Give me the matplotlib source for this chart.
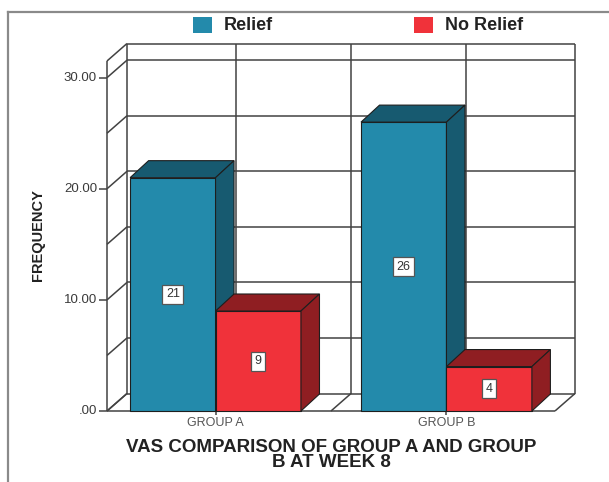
import numpy as np
import matplotlib
matplotlib.use("Agg")
import matplotlib.pyplot as plt
from matplotlib.patches import Rectangle
from matplotlib.lines import Line2D

plt.rcParams['font.family'] = ['Liberation Sans', 'DejaVu Sans']

# ---- data ----
groups = ["GROUP A", "GROUP B"]
relief = [21, 26]
no_relief = [9, 4]
series_names = ["Relief", "No Relief"]
y_ticks = [0, 10, 20, 30]
y_tick_labels = [".00", "10.00", "20.00", "30.00"]
title = "VAS COMPARISON OF GROUP A AND GROUP\nB AT WEEK 8"
ylabel = "FREQUENCY"

# ---- style ----
front_cols = ["#238aab", "#f0323a"]
dark_cols = ["#175a70", "#8f1e22"]
grid_col = "#424242"
edge_col = "#1e1e1e"

W, H = 609, 482
fig = plt.figure(figsize=(W / 100, H / 100), dpi=100)
fig.patch.set_facecolor("white")

# front plane of the 3D box in pixel geometry
left_px, right_px, bot_px, top_px = 107, 555, 411, 61
ax = fig.add_axes([left_px / W, (H - bot_px) / H, (right_px - left_px) / W, (bot_px - top_px) / H])
ax.set_xlim(-0.47, 1.47)
ax.set_ylim(0, 31.5)
ax.axis("off")
xmin, xmax = ax.get_xlim()
ymin, ymax = ax.get_ylim()


def px_to_data(px, py):
    inv = ax.transData.inverted()
    o = ax.transData.transform((0, 0))
    d = inv.transform(o + np.array([px, py]))
    return d[0], d[1]


pdx, pdy = px_to_data(20, 17.5)   # plane depth
bdx, bdy = px_to_data(18.5, 17)   # bar depth

lw = 1.1
kw = dict(color=grid_col, lw=lw, clip_on=False, zorder=1, solid_capstyle="butt")

# back wall horizontal gridlines
levels = list(np.arange(0, 31, 5)) + [ymax]
for v in levels:
    ax.plot([xmin + pdx, xmax + pdx], [v + pdy, v + pdy], **kw)
# back wall vertical lines
for xv in [xmin, 0, 0.5, 1, xmax]:
    ax.plot([xv + pdx, xv + pdx], [pdy, ymax + pdy], **kw)
# left wall
ax.plot([xmin, xmin], [0, ymax], **kw)
for v in levels:
    ax.plot([xmin, xmin + pdx], [v, v + pdy], **kw)
# floor
ax.plot([xmin, xmax], [0, 0], **kw)
for xv in [xmin, 0, 0.5, 1, xmax]:
    ax.plot([xv, xv + pdx], [0, pdy], **kw)

# y ticks and labels
tlx, _ = px_to_data(8, 0)
for v, lab in zip(y_ticks, y_tick_labels):
    ax.plot([xmin - tlx, xmin], [v, v], **kw)
    ax.annotate(lab, (xmin, v), xytext=(-10, 0), textcoords="offset pixels",
                ha="right", va="center", fontsize=9.5, color="#3a3a3a")

# x ticks and labels
_, tly = px_to_data(0, 4)
for i, g in enumerate(groups):
    ax.plot([i, i], [0, -tly], **kw)
    ax.annotate(g, (i, 0), xytext=(0, -12), textcoords="offset pixels",
                ha="center", va="center", fontsize=9, color="#555555")

# 3D bars
bw = 0.37


def bar3d(x0, x1, h, fc, dc, z):
    pk = dict(ec=edge_col, lw=0.8, clip_on=False, zorder=z, joinstyle="miter")
    ax.fill([x0, x1, x1, x0], [0, 0, h, h], fc=fc, **pk)
    ax.fill([x0, x1, x1 + bdx, x0 + bdx], [h, h, h + bdy, h + bdy], fc=dc, **pk)
    ax.fill([x1, x1 + bdx, x1 + bdx, x1], [0, bdy, h + bdy, h], fc=dc, **pk)


z = 3
for i in range(len(groups)):
    for s, vals in enumerate([relief, no_relief]):
        x0 = i - bw + s * bw
        x1 = x0 + bw
        h = vals[i]
        bar3d(x0, x1, h, front_cols[s], dark_cols[s], z)
        ax.text((x0 + x1) / 2, h / 2, str(h), ha="center", va="center", fontsize=9,
                color="#333333", zorder=z + 1,
                bbox=dict(boxstyle="square,pad=0.28", fc="white", ec="#555555", lw=0.9))
        z += 2

# outer frame
fig.add_artist(Line2D([8 / W, 1], [1 - 12 / H, 1 - 12 / H], color="#8a8a8a", lw=1.6))
fig.add_artist(Line2D([8 / W, 8 / W], [0, 1 - 12 / H], color="#8a8a8a", lw=1.6))

# legend
leg_x = [193, 414]
for s, name in enumerate(series_names):
    fig.add_artist(Rectangle((leg_x[s] / W, 1 - 33 / H), 19 / W, 16 / H,
                             transform=fig.transFigure, fc=front_cols[s], ec="none"))
    fig.text((leg_x[s] + 31) / W, 1 - 25 / H, name, ha="left", va="center",
             fontsize=13, fontweight="bold", color="#222222")

# axis titles
fig.text(38 / W, 1 - 235 / H, ylabel, rotation=90, ha="center", va="center",
         fontsize=10.5, fontweight="bold", color="#222222")
fig.text(331 / W, 1 - 455 / H, title, ha="center", va="center", fontsize=13.5,
         fontweight="bold", color="#222222", linespacing=0.82)

fig.savefig("out.png", dpi=100, facecolor="white")
